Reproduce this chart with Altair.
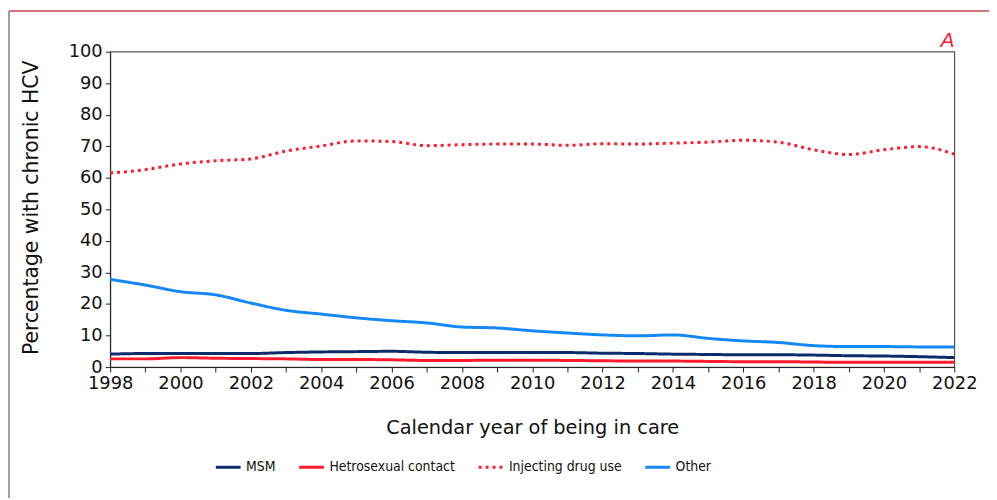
import altair as alt
import pandas as pd

years = list(range(1998, 2023))
groups = ["MSM", "Hetrosexual contact", "Injecting drug use", "Other"]

msm = [4.1, 4.3, 4.3, 4.3, 4.3, 4.6, 4.8, 4.9, 5.0, 4.7, 4.6, 4.6, 4.6,
       4.6, 4.4, 4.3, 4.1, 4.0, 3.9, 3.9, 3.8, 3.6, 3.5, 3.3, 3.0]
hetero = [2.6, 2.6, 3.0, 2.8, 2.7, 2.6, 2.4, 2.4, 2.3, 2.1, 2.1, 2.2, 2.2,
          2.1, 2.0, 1.9, 1.9, 1.8, 1.7, 1.7, 1.6, 1.5, 1.5, 1.5, 1.5]
idu = [61.5, 62.6, 64.4, 65.4, 66.0, 68.5, 70.1, 71.7, 71.5, 70.2, 70.5, 70.7, 70.7,
       70.3, 70.8, 70.7, 71.0, 71.3, 71.9, 71.3, 68.9, 67.4, 68.9, 69.9, 67.5]
other = [27.8, 26.0, 23.9, 22.9, 20.3, 18.0, 16.8, 15.6, 14.7, 14.0, 12.7, 12.4, 11.5,
         10.8, 10.2, 9.9, 10.2, 9.1, 8.3, 7.8, 6.8, 6.5, 6.5, 6.4, 6.4]

colors = ["#0B2C6C", "#FF1A2E", "#FF1A2E", "#1588F7"]
dashes = [[1, 0], [1, 0], [3, 4], [1, 0]]

rows = []
for g, vals in zip(groups, [msm, hetero, idu, other]):
    for yr, v in zip(years, vals):
        rows.append({"year": yr, "value": v, "group": g})
df = pd.DataFrame(rows)

FONT = "DejaVu Sans"

leg = alt.Legend(
    title=None, orient="none", direction="horizontal", legendX=105, legendY=405,
    symbolType="stroke", symbolSize=625, symbolStrokeWidth=3,
    labelFont="DejaVu Sans Condensed, Liberation Sans", labelFontSize=14,
    labelColor="#111", labelOffset=4, columnPadding=17,
)

lines = alt.Chart(df).mark_line(strokeWidth=3, interpolate="monotone").encode(
    x=alt.X("year:Q", scale=alt.Scale(domain=[1998, 2022], nice=False, zero=False),
            axis=alt.Axis(values=years, format="d",
                          labelExpr="datum.value % 2 == 0 ? datum.label : ''",
                          labelFlush=False, labelOverlap=False, labelBound=False,
                          title="Calendar year of being in care", titleY=67,
                          titleBaseline="alphabetic", tickSize=5, labelPadding=3,
                          grid=False)),
    y=alt.Y("value:Q", scale=alt.Scale(domain=[0, 100], nice=False),
            axis=alt.Axis(values=list(range(0, 101, 10)), title="Percentage with chronic HCV",
                          titleX=-73, titleY=157, titleBaseline="alphabetic",
                          titleFontSize=20.5,
                          labelFlush=False, labelOverlap=False,
                          tickSize=5, labelPadding=3, grid=False)),
    color=alt.Color("group:N", scale=alt.Scale(domain=groups, range=colors), legend=leg),
    strokeDash=alt.StrokeDash("group:N", scale=alt.Scale(domain=groups, range=dashes), legend=leg),
)

frame_df = pd.DataFrame({"k": [0]})
top_line = alt.Chart(frame_df).mark_rule(color="#C8454A", strokeWidth=1.5).encode(
    x=alt.value(-102), x2=alt.value(886), y=alt.value(-41))
left_line = alt.Chart(frame_df).mark_rule(color="#808080", strokeWidth=1.5).encode(
    x=alt.value(-102), y=alt.value(-41), y2=alt.value(450))
panel_label = alt.Chart(frame_df).mark_text(
    text="A", color="#FF1A2E", fontStyle="italic", fontSize=21, font="Liberation Sans",
    align="right", baseline="alphabetic").encode(x=alt.value(851), y=alt.value(-5))

chart = alt.layer(lines, top_line, left_line, panel_label).properties(
    width=851, height=318,
    autosize=alt.AutoSizeParams(type="none"),
    padding={"left": 103, "top": 42, "right": 35, "bottom": 132},
).configure_axis(
    domainColor="#222", tickColor="#222", labelFont=FONT, labelFontSize=18,
    labelColor="#111", titleFont=FONT, titleFontSize=19.5, titleFontWeight="normal",
    titleColor="#111",
).configure_view(stroke="#555", strokeWidth=1.2)

chart.save("out.html", embed_options={"renderer": "svg", "actions": False})
